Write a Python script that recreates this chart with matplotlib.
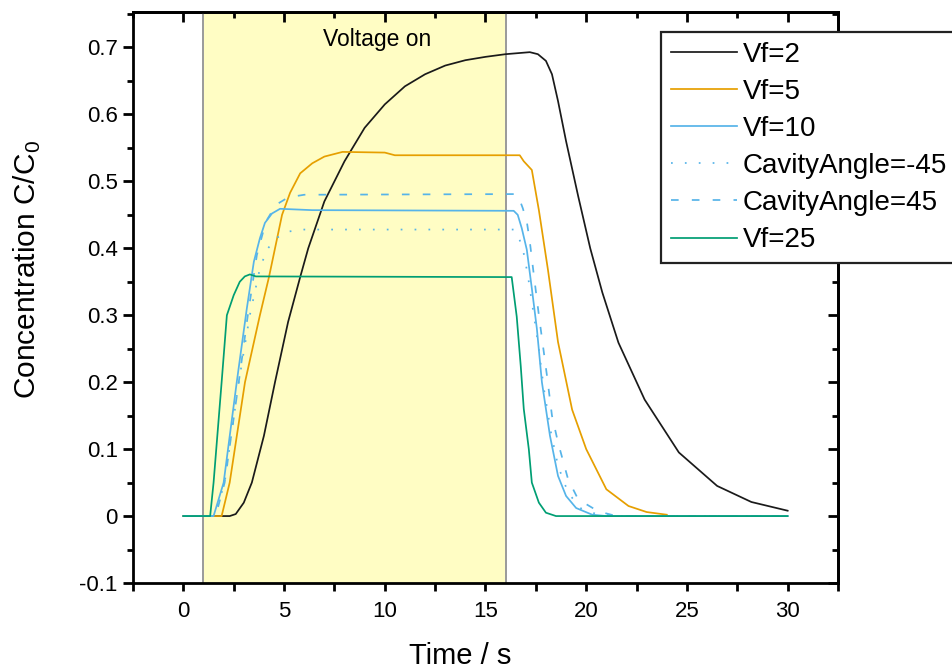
import matplotlib
matplotlib.use("Agg")
import matplotlib.pyplot as plt
from matplotlib.ticker import MultipleLocator, FixedLocator, FuncFormatter

plt.rcParams['font.family'] = ['Liberation Sans', 'DejaVu Sans']
plt.rcParams['axes.unicode_minus'] = False

# ---- data ----
t_vf2 = [0, 2.3, 2.6, 3.0, 3.4, 4.0, 4.55, 5.2, 5.8, 6.2, 7.0, 8.0, 9.0, 10, 11, 12, 13, 14, 15, 16,
         17.2, 17.6, 18.0, 18.3, 18.6, 19.0, 19.6, 20.2, 20.8, 21.6, 22.9, 24.6, 26.5, 28.2, 30]
c_vf2 = [0, 0, 0.003, 0.02, 0.05, 0.12, 0.2, 0.29, 0.357, 0.40, 0.47, 0.53, 0.58, 0.615, 0.642, 0.66,
         0.673, 0.681, 0.686, 0.69, 0.693, 0.69, 0.68, 0.66, 0.62, 0.56, 0.478, 0.40, 0.334, 0.259,
         0.174, 0.095, 0.045, 0.021, 0.008]

t_vf5 = [0, 1.9, 2.3, 3.06, 3.8, 4.25, 4.9, 5.3, 5.8, 6.4, 7.0, 7.9, 10.0, 10.5, 16.7, 16.9, 17.3,
         17.65, 18.1, 18.6, 19.3, 20.0, 21.0, 22.1, 23.0, 24.0]
c_vf5 = [0, 0, 0.05, 0.2, 0.3, 0.357, 0.45, 0.483, 0.512, 0.527, 0.537, 0.544, 0.543, 0.539, 0.539,
         0.53, 0.517, 0.457, 0.368, 0.26, 0.159, 0.1, 0.04, 0.015, 0.006, 0.002]

t_vf10 = [0, 1.5, 2.0, 2.65, 3.15, 3.5, 3.8, 4.05, 4.4, 4.8, 6.4, 16.4, 16.6, 16.8, 17.05, 17.3,
          17.55, 17.8, 18.2, 18.6, 19.0, 19.5, 20.3, 21.0, 30]
c_vf10 = [0, 0, 0.05, 0.2, 0.31, 0.38, 0.415, 0.438, 0.452, 0.459, 0.457, 0.456, 0.45, 0.43, 0.398,
          0.34, 0.28, 0.2, 0.12, 0.06, 0.03, 0.012, 0.002, 0, 0]

t_cam45 = [0, 1.55, 2.05, 2.75, 3.3, 3.8, 4.15, 4.6, 5.2, 6.0, 16.4, 16.6, 16.85, 17.1, 17.35, 17.6,
           17.9, 18.25, 18.6, 19.1, 19.7, 20.5, 21.5, 30]
c_cam45 = [0, 0, 0.05, 0.2, 0.3, 0.37, 0.398, 0.415, 0.425, 0.428, 0.428, 0.42, 0.40, 0.36, 0.31,
           0.26, 0.19, 0.125, 0.075, 0.035, 0.012, 0.003, 0, 0]

t_ca45 = [0, 1.6, 2.05, 2.75, 3.2, 3.65, 4.1, 4.6, 5.2, 6.0, 16.5, 16.65, 16.85, 17.05, 17.2, 17.4,
          17.65, 18.05, 18.3, 18.6, 19.1, 19.6, 20.6, 21.5, 30]
c_ca45 = [0, 0, 0.05, 0.2, 0.3, 0.39, 0.44, 0.465, 0.476, 0.48, 0.481, 0.476, 0.46, 0.44, 0.41,
          0.36, 0.30, 0.21, 0.15, 0.11, 0.055, 0.025, 0.007, 0, 0]

t_vf25 = [0, 1.33, 1.5, 1.9, 2.16, 2.5, 2.8, 3.05, 3.3, 3.6, 16.3, 16.55, 16.75, 16.9, 17.15, 17.3,
          17.65, 18.0, 18.5, 30]
c_vf25 = [0, 0, 0.05, 0.2, 0.3, 0.33, 0.35, 0.358, 0.361, 0.358, 0.357, 0.298, 0.224, 0.16, 0.1,
          0.05, 0.02, 0.005, 0, 0]

labels = ['Vf=2', 'Vf=5', 'Vf=10', 'CavityAngle=-45', 'CavityAngle=45', 'Vf=25']
voltage_on = [1, 16]

# ---- figure ----
fig = plt.figure(figsize=(9.53, 6.70), dpi=100)
ax = fig.add_axes([133/953, 1-583/670, (838-133)/953, (583-12)/670])

ax.axvspan(voltage_on[0], voltage_on[1], color='#FFFDC4', zorder=0, lw=0)
for v in voltage_on:
    ax.axvline(v, color='#9a9a9a', lw=1.4, zorder=1)
ax.text(9.6, 0.712, 'Voltage on', ha='center', va='center', fontsize=16.5)

lw = 1.25
ax.plot(t_vf2, c_vf2, color='#1a1a1a', lw=lw, label=labels[0])
ax.plot(t_vf5, c_vf5, color='#E69F00', lw=lw, label=labels[1])
ax.plot(t_vf10, c_vf10, color='#56B4E9', lw=lw, label=labels[2])
ax.plot(t_cam45, c_cam45, color='#56B4E9', lw=lw, ls=(0, (1, 7)), label=labels[3])
ax.plot(t_ca45, c_ca45, color='#56B4E9', lw=lw, ls=(0, (4.4, 7.6)), label=labels[4])
ax.plot(t_vf25, c_vf25, color='#009E73', lw=lw, label=labels[5])

ax.set_xlim(-2.5, 32.5)
ax.set_ylim(-0.1, 0.753)

ax.xaxis.set_major_locator(FixedLocator([0, 5, 10, 15, 20, 25, 30]))
ax.xaxis.set_minor_locator(FixedLocator([-2.5, 2.5, 7.5, 12.5, 17.5, 22.5, 27.5, 32.5]))
ax.yaxis.set_major_locator(MultipleLocator(0.1))
ax.yaxis.set_minor_locator(MultipleLocator(0.05))

def yfmt(v, pos):
    if abs(v) < 1e-9:
        return '0'
    return f'{v:.1f}'
ax.yaxis.set_major_formatter(FuncFormatter(yfmt))

for s in ax.spines.values():
    s.set_linewidth(2)

ax.tick_params(axis='x', which='both', bottom=True, top=False, direction='out', width=2)
ax.tick_params(axis='x', which='major', length=6, pad=7, labelsize=16)
ax.tick_params(axis='x', which='minor', length=6)
ax.tick_params(axis='y', which='both', left=True, right=False, direction='out', width=2)
ax.tick_params(axis='y', which='major', length=7, pad=4, labelsize=16)
ax.tick_params(axis='y', which='minor', length=4)

# inward ticks on top and right
sec_top = ax.secondary_xaxis('top')
sec_top.xaxis.set_major_locator(FixedLocator([0, 5, 10, 15, 20, 25, 30]))
sec_top.xaxis.set_minor_locator(FixedLocator([-2.5, 2.5, 7.5, 12.5, 17.5, 22.5, 27.5, 32.5]))
sec_top.tick_params(which='both', direction='in', width=2, labeltop=False)
sec_top.tick_params(which='major', length=7)
sec_top.tick_params(which='minor', length=4)
sec_top.spines['top'].set_linewidth(2)

sec_right = ax.secondary_yaxis('right')
sec_right.yaxis.set_major_locator(MultipleLocator(0.1))
sec_right.yaxis.set_minor_locator(MultipleLocator(0.05))
sec_right.tick_params(which='both', direction='in', width=2, labelright=False)
sec_right.tick_params(which='major', length=7)
sec_right.tick_params(which='minor', length=4)
sec_right.spines['right'].set_linewidth(2)

fig.text(27/953, 1-270/670, r'Concentration C/C$_\mathregular{0}$', rotation=90,
         ha='center', va='center', fontsize=21.5)
fig.text(460/953, 1-656/670, 'Time / s', ha='center', va='center', fontsize=21)

leg = ax.legend(loc='upper left', bbox_to_anchor=(661/953, 1-32/670), bbox_transform=fig.transFigure,
                fontsize=20, frameon=True, fancybox=False, framealpha=1, edgecolor='#222222',
                borderpad=0.35, labelspacing=0.4, handlelength=2.4, handletextpad=0.2,
                borderaxespad=0)
leg.get_frame().set_linewidth(1.6)
leg.set_zorder(10)

fig.savefig('out.png', dpi=100)
